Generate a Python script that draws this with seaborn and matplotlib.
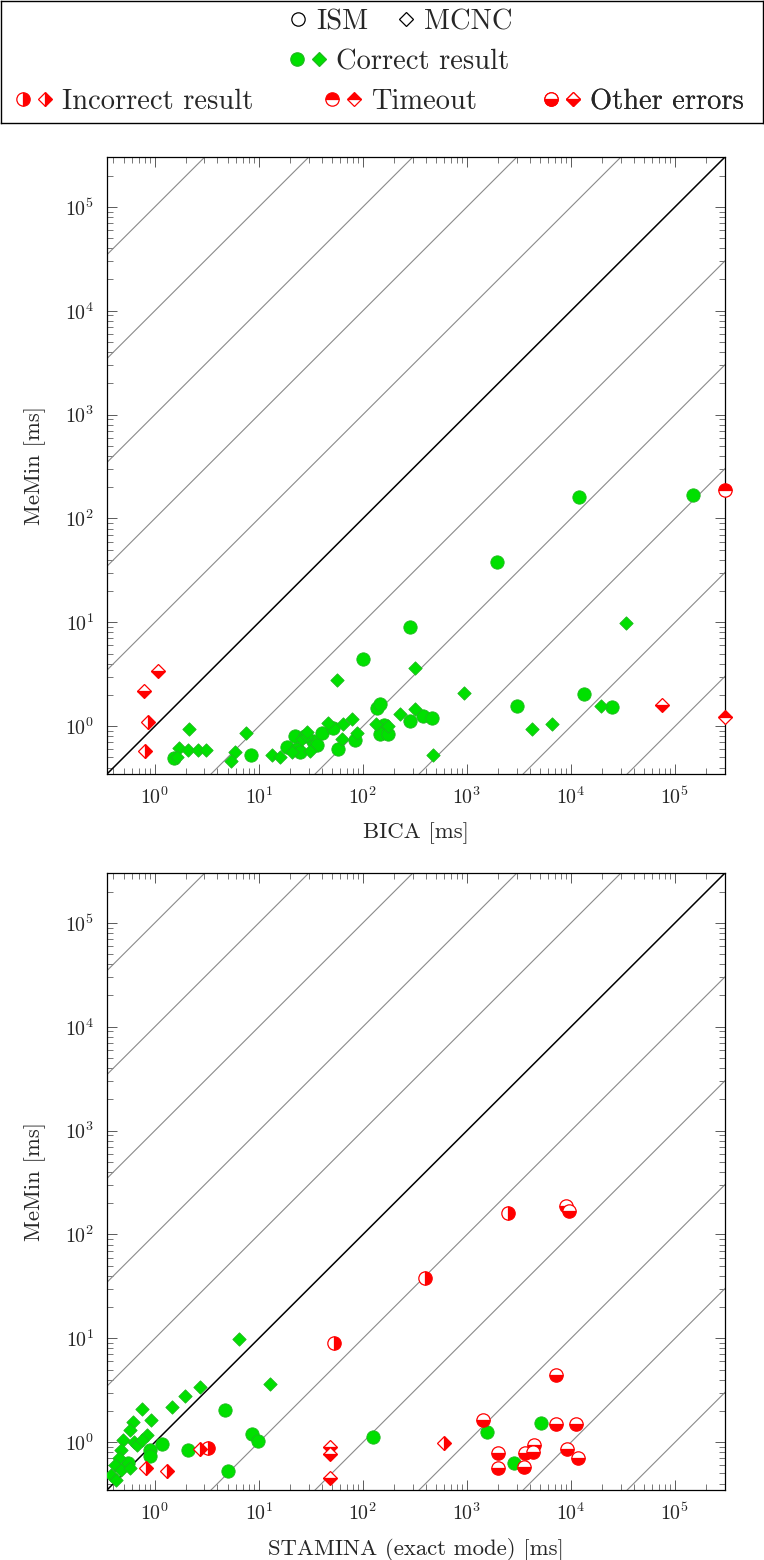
import numpy as np
import matplotlib
matplotlib.use("Agg")
import matplotlib.pyplot as plt
import seaborn as sns
from matplotlib.lines import Line2D
from matplotlib.legend_handler import HandlerTuple
from matplotlib.ticker import LogLocator, NullFormatter

sns.set_style("ticks")
plt.rcParams['font.family'] = ['cmr10', 'DejaVu Serif']
plt.rcParams['mathtext.fontset'] = 'cm'
plt.rcParams['axes.formatter.use_mathtext'] = True

# ---- BICA vs MeMin (top) ----
bica_ism_ok_x = [1.52, 8.4, 18.6, 22, 23, 25, 33, 28, 36, 40, 52, 58, 84, 100, 138, 145,
                 160, 145, 173, 282, 375, 458, 282, 1950, 3000, 1.2e4, 1.33e4, 2.5e4, 1.5e5]
bica_ism_ok_y = [0.49, 0.53, 0.63, 0.80, 0.60, 0.57, 0.72, 0.81, 0.66, 0.87, 0.97, 0.60, 0.73, 4.4, 1.5, 1.63,
                 1.02, 0.84, 0.84, 1.12, 1.26, 1.19, 9.0, 38, 1.55, 162, 2.03, 1.52, 170]
bica_mcnc_ok_x = [2.12, 1.7, 2.06, 2.57, 3.1, 1.62, 7.5, 5.9, 5.4, 13.5, 15.9, 21, 26, 29, 31, 29,
                  46, 56, 63, 65, 79, 87, 133, 175, 228, 316, 318, 475, 930, 4250, 6500, 1.94e4, 3.4e4]
bica_mcnc_ok_y = [0.93, 0.62, 0.59, 0.59, 0.59, 0.50, 0.86, 0.56, 0.46, 0.53, 0.50, 0.57, 0.75, 0.80, 0.58, 0.88,
                  1.07, 2.79, 0.76, 1.05, 1.17, 0.87, 1.06, 1.0, 1.3, 1.48, 3.6, 0.53, 2.1, 0.94, 1.05, 1.55, 9.8]
bica_mcnc_incorrect_x = [0.85, 0.81]
bica_mcnc_incorrect_y = [1.1, 0.58]
bica_mcnc_other_x = [1.07, 0.79, 7.5e4]
bica_mcnc_other_y = [3.4, 2.16, 1.6]
bica_ism_timeout_x = [3.0e5]
bica_ism_timeout_y = [190]
bica_mcnc_timeout_x = [3.0e5]
bica_mcnc_timeout_y = [1.24]

# ---- STAMINA vs MeMin (bottom) ----
stam_ism_ok_x = [4.7, 8.5, 9.9, 1.17, 0.9, 0.9, 2.1, 5.0, 0.55, 126, 1550, 5100, 2800]
stam_ism_ok_y = [2.03, 1.19, 1.02, 0.97, 0.84, 0.73, 0.84, 0.53, 0.63, 1.12, 1.26, 1.53, 0.63]
stam_mcnc_ok_x = [6.4, 12.8, 2.7, 1.94, 1.45, 0.76, 0.91, 0.61, 0.58, 0.84, 0.49, 0.63, 0.68, 0.76,
                  0.47, 0.45, 0.41, 0.47, 0.58, 0.38, 0.42]
stam_mcnc_ok_y = [9.8, 3.6, 3.4, 2.8, 2.2, 2.1, 1.63, 1.55, 1.3, 1.17, 1.06, 1.0, 0.94, 1.05,
                  0.84, 0.70, 0.60, 0.54, 0.56, 0.48, 0.43]
stam_ism_incorrect_x = [2500, 395, 53, 3.25]
stam_ism_incorrect_y = [162, 38, 9.0, 0.88]
stam_mcnc_incorrect_x = [2.7, 0.82, 1.3, 600]
stam_mcnc_incorrect_y = [0.87, 0.57, 0.53, 0.99]
stam_ism_other_x = [8900, 9600, 7100, 1440, 7100, 1.12e4, 1990, 1990, 3500, 3600, 4300, 4450, 9100, 1.18e4]
stam_ism_other_y = [190, 170, 4.4, 1.65, 1.51, 1.51, 0.78, 0.56, 0.58, 0.78, 0.80, 0.94, 0.86, 0.70]
stam_mcnc_other_x = [48, 48, 48]
stam_mcnc_other_y = [0.9, 0.77, 0.45]

LO, HI = 10 ** -0.46, 10 ** 5.48
GREEN, GREEN_EDGE = '#00e000', '#1fb81f'
RED = '#ff0000'
MS_O, MS_D = 9.6, 6.8
FS_LEG, FS_LAB, FS_TICK = 20.5, 16.4, 14.4


def half(ax, x, y, marker, fill):
    ms = MS_O if marker == 'o' else MS_D
    ax.plot(x, y, ls='none', marker=marker, ms=ms, mfc=RED, mfcalt='white',
            mec=RED, mew=0.9, fillstyle=fill, zorder=4, clip_on=False)


def setup(ax, xlabel):
    ax.set_xscale('log')
    ax.set_yscale('log')
    g = np.array([1e-3, 1e9])
    for k in range(-6, 7):
        if k == 0:
            ax.plot(g, g, color='black', lw=1.1, zorder=1)
        else:
            ax.plot(g, g * 10.0 ** k, color='#8a8a8a', lw=0.8, zorder=1)
    ax.set_xlim(LO, HI)
    ax.set_ylim(LO, HI)
    for axis in (ax.xaxis, ax.yaxis):
        axis.set_major_locator(LogLocator(base=10, numticks=20))
        axis.set_minor_locator(LogLocator(base=10, subs=np.arange(2, 10), numticks=20))
        axis.set_minor_formatter(NullFormatter())
    ax.tick_params(which='both', direction='in', top=True, right=True, color='#404040')
    ax.tick_params(which='major', length=7, width=0.6, labelsize=FS_TICK, pad=9)
    ax.tick_params(which='minor', length=4, width=0.5)
    for s in ax.spines.values():
        s.set_linewidth(0.9)
        s.set_color('black')
    ax.set_xlabel(xlabel, fontsize=FS_LAB, labelpad=10)
    ax.set_ylabel('MeMin [ms]', fontsize=FS_LAB, labelpad=14)


def green(ax, xo, yo, xd, yd):
    sns.scatterplot(x=xo, y=yo, marker='o', s=MS_O ** 2, color=GREEN, edgecolor=GREEN_EDGE,
                    linewidth=0.6, zorder=3, ax=ax)
    sns.scatterplot(x=xd, y=yd, marker='D', s=MS_D ** 2, color=GREEN, edgecolor=GREEN_EDGE,
                    linewidth=0.6, zorder=3, ax=ax)


fig = plt.figure(figsize=(7.64, 15.6), dpi=100)
ax1 = fig.add_axes([107 / 764, 1 - 774 / 1560, 618 / 764, 617 / 1560])
ax2 = fig.add_axes([107 / 764, 1 - 1490 / 1560, 618 / 764, 617 / 1560])

setup(ax1, 'BICA [ms]')
green(ax1, bica_ism_ok_x, bica_ism_ok_y, bica_mcnc_ok_x, bica_mcnc_ok_y)
half(ax1, bica_mcnc_incorrect_x, bica_mcnc_incorrect_y, 'D', 'right')
half(ax1, bica_mcnc_other_x, bica_mcnc_other_y, 'D', 'bottom')
half(ax1, bica_ism_timeout_x, bica_ism_timeout_y, 'o', 'top')
half(ax1, bica_mcnc_timeout_x, bica_mcnc_timeout_y, 'D', 'top')

setup(ax2, 'STAMINA (exact mode) [ms]')
green(ax2, stam_ism_ok_x, stam_ism_ok_y, stam_mcnc_ok_x, stam_mcnc_ok_y)
half(ax2, stam_ism_incorrect_x, stam_ism_incorrect_y, 'o', 'right')
half(ax2, stam_mcnc_incorrect_x, stam_mcnc_incorrect_y, 'D', 'right')
half(ax2, stam_ism_other_x, stam_ism_other_y, 'o', 'bottom')
half(ax2, stam_mcnc_other_x, stam_mcnc_other_y, 'D', 'bottom')

# ---- legend box ----
lax = fig.add_axes([1 / 764, 1 - 123 / 1560, 762 / 764, 122 / 1560])
lax.set_xticks([])
lax.set_yticks([])
for s in lax.spines.values():
    s.set_visible(True)
    s.set_linewidth(1.0)
    s.set_color('black')


def mk(marker, fc='white', ec='black', fill='full', alt='white'):
    ms = MS_O if marker == 'o' else MS_D
    return Line2D([], [], ls='none', marker=marker, ms=ms, mfc=fc, mec=ec, mew=0.9,
                  fillstyle=fill, mfcalt=alt)


entries = [
    (mk('o'), 'ISM', 288, 22, 0.7),
    (mk('D'), 'MCNC', 396, 22, 0.7),
    ((mk('o', GREEN, GREEN_EDGE), mk('D', GREEN, GREEN_EDGE)), 'Correct result', 288, 62, 1.4),
    ((mk('o', RED, RED, 'right'), mk('D', RED, RED, 'right')), 'Incorrect result', 14, 102, 1.4),
    ((mk('o', RED, RED, 'top'), mk('D', RED, RED, 'top')), 'Timeout', 323, 102, 1.4),
    ((mk('o', RED, RED, 'bottom'), mk('D', RED, RED, 'bottom')), 'Other errors', 542, 102, 1.4),
]
for h, lab, px, py, hl in entries:
    leg = lax.legend([h], [lab], loc='center left',
                     bbox_to_anchor=((px - 1) / 762, (123 - py) / 122),
                     frameon=False, fontsize=FS_LEG, borderpad=0, borderaxespad=0,
                     handlelength=hl, handletextpad=0.3,
                     handler_map={tuple: HandlerTuple(ndivide=None, pad=0.1)})
    lax.add_artist(leg)

fig.savefig('out.png', dpi=100)
